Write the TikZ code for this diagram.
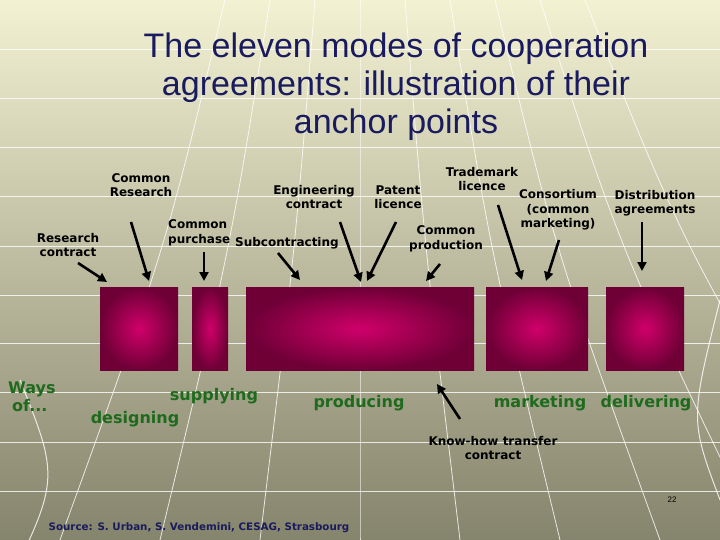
\documentclass[tikz,border=0pt]{standalone}
\usepackage{fontspec}
\setmainfont{Liberation Sans}
\newfontfamily\vfont{DejaVu Sans}
\usetikzlibrary{arrows.meta}
\definecolor{bgtop}{HTML}{F2F1D2}
\definecolor{bgbot}{HTML}{85846C}
\definecolor{mag}{HTML}{D0006A}
\definecolor{magd}{HTML}{6E0036}
\definecolor{grn}{HTML}{1E6B1E}
\definecolor{ttl}{HTML}{1A1A5E}
\tikzset{
  lbl/.style={font=\vfont\bfseries\fontsize{12}{14.5}\selectfont, align=center, text=black, inner sep=0pt},
  way/.style={font=\vfont\bfseries\fontsize{16}{18}\selectfont, text=grn, inner sep=0pt, align=left},
  arr/.style={line width=2.6pt, -{Triangle[length=9pt,width=9pt]}},
  blk/.style={shading=radial, inner color=mag, outer color=magd},
  grid/.style={white, line width=1pt, opacity=0.8}
}
\begin{document}
\begin{tikzpicture}[x=1pt,y=-1pt]
\shade[top color=bgtop, bottom color=bgbot] (0,0) rectangle (720,540);
\useasboundingbox (0,0) rectangle (720,540);
% grid lines
\foreach \y in {50,99,148,197,246,295,343,392,442,491}
  \draw[grid] (0,\y) -- (720,\y);
\foreach \a in {-150,-100,-50,0,50,100,150,200,250}
  \draw[grid, line width=0.8pt] (360+\a*0.9,0) .. controls (360+\a*1.3,250) .. (360+\a*2.0,540);
\draw[grid] (0,600) .. controls (60,480) .. (20,380);
\draw[grid] (720,500) .. controls (690,420) .. (720,300);
% title
\node[font=\fontsize{34}{38}\selectfont, text=ttl, align=center] (title) at (396,87)
  {The eleven modes of cooperation\\agreements: illustration of their\\anchor points};
% blocks
\path[blk] (100,287) rectangle (178,370); \node (b1) at (139,328) {};
\path[blk] (192,287) rectangle (228,370); \node (b2) at (210,328) {};
\path[blk] (246,287) rectangle (474,370); \node (b3) at (360,328) {};
\path[blk] (486,287) rectangle (588,370); \node (b4) at (537,328) {};
\path[blk] (606,287) rectangle (684,370); \node (b5) at (645,328) {};
% labels
\node[lbl] (rc) at (68,245) {Research\\contract};
\node[lbl] (cr) at (141,185) {Common\\Research};
\node[lbl,align=left,anchor=west] (cp) at (168,233) {Common\\purchase};
\node[lbl,anchor=west] (sc) at (235,243) {Subcontracting};
\node[lbl] (ec) at (314,197) {Engineering\\contract};
\node[lbl] (pl) at (398,197) {Patent\\licence};
\node[lbl] (cpr) at (446,239) {Common\\production};
\node[lbl] (tl) at (482,179) {Trademark\\licence};
\node[lbl] (cs) at (558,210) {Consortium\\(common\\marketing)};
\node[lbl] (da) at (655,203) {Distribution\\agreements};
\node[lbl] (kh) at (493,448) {Know-how transfer\\contract};
% arrows
\coordinate (t1) at (107,282); \coordinate (t2) at (149,281); \coordinate (t3) at (204,281);
\coordinate (t4) at (300,280); \coordinate (t5) at (361,282); \coordinate (t6) at (367,281);
\coordinate (t7) at (426,281); \coordinate (t8) at (522,280); \coordinate (t9) at (546,281);
\coordinate (t10) at (642,271); \coordinate (t11) at (437,384);
\draw[arr] (78,263) -- (t1);
\draw[arr] (131,222) -- (t2);
\draw[arr] (204,252) -- (t3);
\draw[arr] (278,253) -- (t4);
\draw[arr] (340,222) -- (t5);
\draw[arr] (396,222) -- (t6);
\draw[arr] (440,264) -- (t7);
\draw[arr] (498,205) -- (t8);
\draw[arr] (559,240) -- (t9);
\draw[arr] (642,222) -- (t10);
\draw[arr] (460,419) -- (t11);
% ways
\node[way,anchor=west] (ways) at (8,397) {Ways\\\hspace*{4pt}of...};
\node[way] (sup) at (214,396) {supplying};
\node[way] (des) at (135,419) {designing};
\node[way] (pro) at (359,403) {producing};
\node[way] (mkt) at (540,403) {marketing};
\node[way] (del) at (646,403) {delivering};
% footer
\node[font=\vfont\bfseries\fontsize{10.3}{12}\selectfont, text=ttl] (src) at (199,528) {Source: S. Urban, S. Vendemini, CESAG, Strasbourg};
\node[font=\fontsize{8}{9}\selectfont] (pg) at (672,500) {22};
\end{tikzpicture}
\end{document}
